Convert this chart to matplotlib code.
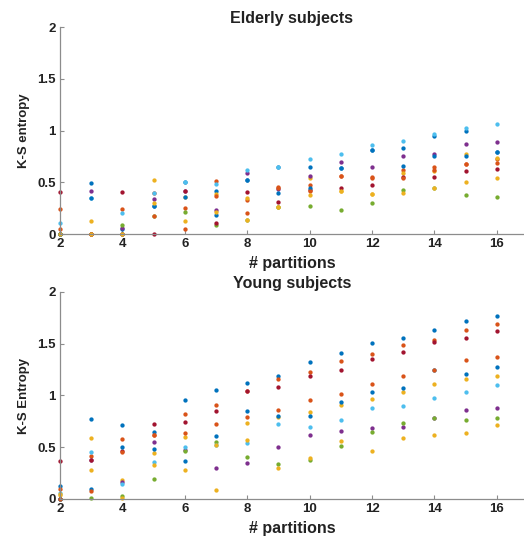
import numpy as np
import matplotlib
matplotlib.use("Agg")
import matplotlib.pyplot as plt

plt.rcParams['font.family'] = ['Liberation Sans', 'DejaVu Sans']
plt.rcParams['font.weight'] = 'bold'

partitions = np.arange(2, 17)

# MATLAB default color order, cycling over 10 subjects
colors = ['#0072BD', '#D95319', '#EDB120', '#7E2F8E', '#77AC30',
          '#4DBEEE', '#A2142F', '#0072BD', '#D95319', '#EDB120']

# elderly subjects, K-S entropy per number of partitions
eld_s1 = [0.00, 0.49, 0.05, 0.275, 0.50, 0.42, 0.52, 0.65, 0.65, 0.64, 0.81, 0.83, 0.95, 1.00, 0.79]
eld_s2 = [0.245, 0.00, 0.245, 0.40, 0.25, 0.51, 0.33, 0.45, 0.47, 0.56, 0.55, 0.62, 0.65, 0.68, 0.72]
eld_s3 = [0.00, 0.125, 0.00, 0.52, 0.355, 0.39, 0.345, 0.26, 0.54, 0.42, 0.39, 0.59, 0.61, 0.77, 0.73]
eld_s4 = [0.00, 0.42, 0.06, 0.335, 0.415, 0.235, 0.59, 0.435, 0.56, 0.70, 0.65, 0.75, 0.77, 0.87, 0.89]
eld_s5 = [0.00, 0.00, 0.085, 0.17, 0.21, 0.09, 0.135, 0.26, 0.27, 0.23, 0.30, 0.43, 0.44, 0.38, 0.36]
eld_s6 = [0.11, 0.35, 0.20, 0.40, 0.50, 0.48, 0.62, 0.65, 0.72, 0.77, 0.86, 0.90, 0.97, 1.02, 1.06]
eld_s7 = [0.41, 0.00, 0.41, 0.00, 0.415, 0.11, 0.41, 0.31, 0.43, 0.44, 0.47, 0.55, 0.55, 0.61, 0.63]
eld_s8 = [0.00, 0.35, 0.00, 0.275, 0.36, 0.18, 0.52, 0.40, 0.44, 0.64, 0.81, 0.66, 0.75, 0.75, 0.79]
eld_s9 = [0.05, 0.00, 0.00, 0.175, 0.05, 0.37, 0.205, 0.44, 0.42, 0.56, 0.54, 0.54, 0.62, 0.68, 0.69]
eld_s10 = [0.00, 0.00, 0.00, 0.295, 0.13, 0.21, 0.14, 0.26, 0.38, 0.42, 0.39, 0.40, 0.44, 0.50, 0.54]

# young subjects
yng_s1 = [0.125, 0.77, 0.71, 0.65, 0.96, 1.05, 1.125, 1.19, 1.32, 1.41, 1.51, 1.56, 1.63, 1.72, 1.77]
yng_s2 = [0.10, 0.42, 0.58, 0.62, 0.82, 0.91, 1.04, 1.155, 1.23, 1.33, 1.40, 1.49, 1.54, 1.63, 1.69]
yng_s3 = [0.04, 0.59, 0.18, 0.44, 0.60, 0.09, 0.73, 0.79, 0.84, 0.91, 0.97, 1.03, 1.11, 1.16, 1.19]
yng_s4 = [0.00, 0.38, 0.16, 0.555, 0.47, 0.295, 0.35, 0.50, 0.62, 0.66, 0.69, 0.70, 0.78, 0.86, 0.88]
yng_s5 = [0.00, 0.01, 0.03, 0.19, 0.465, 0.555, 0.41, 0.34, 0.38, 0.51, 0.645, 0.73, 0.78, 0.76, 0.78]
yng_s6 = [0.06, 0.455, 0.14, 0.36, 0.50, 0.52, 0.54, 0.72, 0.70, 0.76, 0.875, 0.90, 0.98, 1.035, 1.10]
yng_s7 = [0.37, 0.38, 0.465, 0.72, 0.74, 0.85, 1.04, 1.08, 1.19, 1.25, 1.35, 1.42, 1.52, 1.56, 1.62]
yng_s8 = [0.00, 0.10, 0.50, 0.48, 0.37, 0.61, 0.85, 0.80, 0.80, 0.94, 1.035, 1.07, 1.25, 1.21, 1.275]
yng_s9 = [0.00, 0.08, 0.455, 0.62, 0.64, 0.72, 0.79, 0.86, 0.955, 1.01, 1.11, 1.19, 1.25, 1.34, 1.37]
yng_s10 = [0.045, 0.28, 0.01, 0.33, 0.28, 0.52, 0.57, 0.30, 0.40, 0.56, 0.46, 0.59, 0.615, 0.635, 0.715]

elderly = [eld_s1, eld_s2, eld_s3, eld_s4, eld_s5, eld_s6, eld_s7, eld_s8, eld_s9, eld_s10]
young = [yng_s1, yng_s2, yng_s3, yng_s4, yng_s5, yng_s6, yng_s7, yng_s8, yng_s9, yng_s10]


def draw_panel(ax, subjects, title, ylabel):
    for vals, c in zip(subjects, colors):
        ax.plot(partitions, vals, 'o', color=c, markersize=3.1,
                markeredgewidth=0, clip_on=False)
    ax.set_xlim(2, 16.87)
    ax.set_ylim(0, 2)
    ax.set_xticks(np.arange(2, 17, 2))
    ax.set_yticks([0, 0.5, 1, 1.5, 2])
    ax.set_yticklabels(['0', '0.5', '1', '1.5', '2'])
    for s in ['top', 'right']:
        ax.spines[s].set_visible(False)
    for s in ['left', 'bottom']:
        ax.spines[s].set_color('#8c8c8c')
        ax.spines[s].set_linewidth(0.9)
    ax.tick_params(direction='in', length=3, color='#8c8c8c',
                   labelsize=9.5, labelcolor='#222222', pad=3)
    ax.set_title(title, fontsize=11.5, fontweight='bold', pad=3, color='#222222')
    ax.set_xlabel('# partitions', fontsize=11.5, fontweight='bold',
                  labelpad=4, color='#222222')
    ax.set_ylabel(ylabel, fontsize=9.5, fontweight='bold',
                  labelpad=5, color='#222222')


fig = plt.figure(figsize=(5.24, 5.37), dpi=100)
ax1 = fig.add_axes([0.1145, 0.5642, 0.8855, 0.3855])
ax2 = fig.add_axes([0.1145, 0.0708, 0.8855, 0.3855])

draw_panel(ax1, elderly, 'Elderly subjects', 'K-S entropy')
draw_panel(ax2, young, 'Young subjects', 'K-S Entropy')

fig.savefig('out.png', dpi=100)
